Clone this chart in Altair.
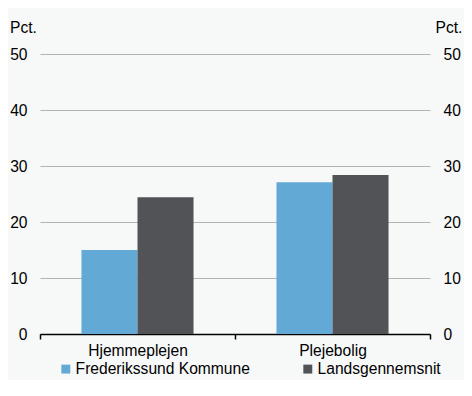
import altair as alt
import pandas as pd

categories = ["Hjemmeplejen", "Plejebolig"]
series = ["Frederikssund Kommune", "Landsgennemsnit"]
kommune = [15.0, 27.1]
lands = [24.4, 28.4]
colors = ["#63a9d5", "#525357"]
y_ticks = [0, 10, 20, 30, 40, 50]

rows = []
for c, v in zip(categories, kommune):
    rows.append({"kategori": c, "serie": series[0], "vaerdi": v})
for c, v in zip(categories, lands):
    rows.append({"kategori": c, "serie": series[1], "vaerdi": v})
df = pd.DataFrame(rows)

FONT = "Liberation Sans"
FS = 15.6

x = alt.X("kategori:N", sort=categories, title=None,
          scale=alt.Scale(paddingInner=0, paddingOuter=0),
          axis=alt.Axis(labelAngle=0, tickBand="extent", domainColor="#000000",
                        domainWidth=1.5, tickColor="#000000", tickWidth=1.5,
                        tickSize=5, labelPadding=4, labelFontSize=FS,
                        labelColor="#000000", labelFont=FONT))
xoff = alt.XOffset("serie:N", sort=series, scale=alt.Scale(paddingOuter=0.74, paddingInner=0))
color = alt.Color("serie:N", sort=series, title=None,
                  scale=alt.Scale(domain=series, range=colors),
                  legend=alt.Legend(orient="none", legendX=18, legendY=307,
                                    direction="horizontal", symbolType="square",
                                    symbolSize=80, symbolStrokeWidth=0,
                                    labelFontSize=FS, labelFont=FONT,
                                    labelColor="#000000", labelOffset=2,
                                    labelLimit=400, columnPadding=50))

yscale = alt.Scale(domain=[0, 50])

left = alt.Chart(df).mark_bar().encode(
    x=x, xOffset=xoff, color=color,
    y=alt.Y("vaerdi:Q", scale=yscale, title="Pct.",
            axis=alt.Axis(values=y_ticks, orient="left", domain=False, ticks=False,
                          grid=True, gridColor="#b3b3b3", gridWidth=1,
                          labelPadding=13, labelFontSize=FS, labelFont=FONT,
                          labelColor="#000000", titleAngle=0, titleAlign="left",
                          titleBaseline="alphabetic", titleX=-30.5, titleY=-22,
                          titleFontSize=FS, titleFont=FONT, titleFontWeight="normal",
                          titleColor="#000000")),
)

right = alt.Chart(df).mark_bar(opacity=0).encode(
    x=x, xOffset=xoff,
    y=alt.Y("vaerdi:Q", scale=yscale, title="Pct.",
            axis=alt.Axis(values=y_ticks, orient="right", domain=False, ticks=False,
                          grid=False, labelPadding=13, labelFontSize=FS,
                          labelFont=FONT, labelColor="#000000", titleAngle=0,
                          titleAlign="left", titleBaseline="alphabetic",
                          titleX=5, titleY=-22, titleFontSize=FS, titleFont=FONT,
                          titleFontWeight="normal", titleColor="#000000")),
)

chart = alt.layer(left, right).resolve_axis(y="independent").properties(
    width=390, height=280,
    autosize=alt.AutoSizeParams(type="none"),
    padding={"left": 32, "top": 46, "right": 34, "bottom": 46},
    background="#f7f8f8",
).configure_view(stroke=None)

chart.save("out.html", embed_options={"renderer": "svg", "actions": False})
